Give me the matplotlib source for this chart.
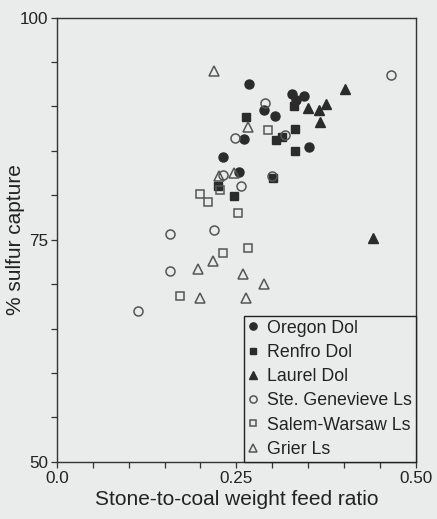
import matplotlib.pyplot as plt
from matplotlib.ticker import MultipleLocator

plt.rcParams['font.family'] = ['Liberation Sans', 'DejaVu Sans']

# Data
oregon_x = [0.268, 0.327, 0.344, 0.333, 0.288, 0.304, 0.260, 0.231, 0.253, 0.351]
oregon_y = [92.5, 91.4, 91.2, 90.7, 89.6, 88.9, 86.3, 84.3, 82.6, 85.4]

renfro_x = [0.264, 0.330, 0.331, 0.305, 0.314, 0.331, 0.225, 0.246, 0.301]
renfro_y = [88.8, 90.0, 87.5, 86.2, 86.6, 85.0, 81.1, 79.9, 81.9]

laurel_x = [0.401, 0.349, 0.365, 0.375, 0.367, 0.440]
laurel_y = [92.0, 89.8, 89.6, 90.3, 88.3, 75.2]

genevieve_x = [0.465, 0.290, 0.248, 0.318, 0.232, 0.257, 0.300, 0.219, 0.158, 0.157, 0.113]
genevieve_y = [93.5, 90.4, 86.4, 86.8, 82.3, 81.0, 82.2, 76.1, 75.6, 71.5, 67.0]

salem_x = [0.227, 0.200, 0.210, 0.252, 0.294, 0.232, 0.266, 0.171]
salem_y = [80.6, 80.2, 79.2, 78.0, 87.4, 73.5, 74.1, 68.7]

grier_x = [0.219, 0.266, 0.246, 0.226, 0.217, 0.196, 0.259, 0.289, 0.200, 0.264]
grier_y = [94.0, 87.7, 82.5, 82.2, 72.6, 71.7, 71.2, 70.0, 68.4, 68.4]

bg = '#e9ecea'
dark = '#2b2b2b'
grey = '#555555'

fig = plt.figure(figsize=(4.37, 5.19), dpi=100, facecolor=bg)
ax = fig.add_axes([0.130, 0.110, 0.822, 0.856])
ax.set_facecolor(bg)

ms = 6.5
ax.plot(oregon_x, oregon_y, 'o', color=dark, ms=ms, mec=dark, label='Oregon Dol')
ax.plot(renfro_x, renfro_y, 's', color=dark, ms=ms - 0.5, mec=dark, label='Renfro Dol')
ax.plot(laurel_x, laurel_y, '^', color=dark, ms=ms, mec=dark, label='Laurel Dol')
ax.plot(genevieve_x, genevieve_y, 'o', mfc='none', mec=grey, mew=1.1, ms=ms,
        label='Ste. Genevieve Ls')
ax.plot(salem_x, salem_y, 's', mfc='none', mec=grey, mew=1.1, ms=ms - 0.5,
        label='Salem-Warsaw Ls')
ax.plot(grier_x, grier_y, '^', mfc='none', mec=grey, mew=1.1, ms=ms,
        label='Grier Ls')

ax.set_xlim(0, 0.5)
ax.set_ylim(50, 100)
ax.set_xticks([0, 0.25, 0.5])
ax.set_xticklabels(['0.0', '0.25', '0.50'])
ax.set_yticks([50, 75, 100])
ax.xaxis.set_minor_locator(MultipleLocator(0.05))
ax.yaxis.set_minor_locator(MultipleLocator(5))
ax.tick_params(which='both', direction='out', length=4.5, width=0.9,
               color='#333333', labelsize=12.3, pad=2, labelcolor='#222222')

for s in ax.spines.values():
    s.set_color('#333333')
    s.set_linewidth(1.0)

ax.set_xlabel('Stone-to-coal weight feed ratio', fontsize=15, color='#222222', labelpad=3)
ax.set_ylabel('% sulfur capture', fontsize=15, color='#222222')
ax.yaxis.set_label_coords(-0.088, 0.5)

leg = ax.legend(loc='lower right', fontsize=12.8, frameon=True, fancybox=False,
                edgecolor='#222222', facecolor=bg, framealpha=1,
                borderaxespad=0, borderpad=0.22, labelspacing=0.41,
                handlelength=0.6, handletextpad=0.5, markerscale=0.8)
leg.get_frame().set_linewidth(1.0)
for t in leg.get_texts():
    t.set_color('#222222')

fig.savefig('out.png', dpi=100, facecolor=bg)
